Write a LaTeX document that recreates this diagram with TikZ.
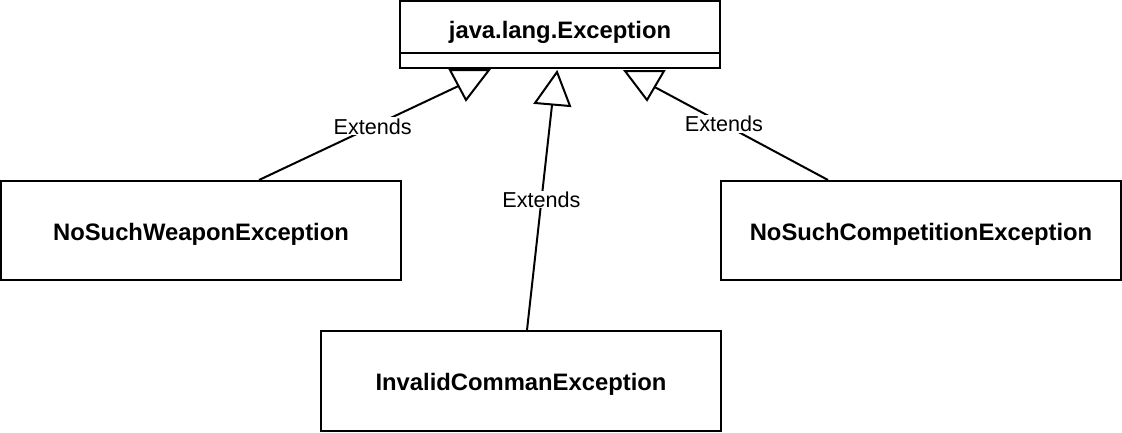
\documentclass[tikz,border=0pt]{standalone}
\usepackage{fontspec}
\setmainfont{Liberation Sans}
\begin{document}
\begin{tikzpicture}[x=1pt,y=1pt,line width=2pt,
  cls/.style={draw,line width=2pt,minimum width=400pt,inner sep=0pt},
  txt/.style={font=\fontsize{23.8}{26}\selectfont\bfseries,inner sep=0pt,text depth=0pt},
  lbl/.style={fill=white,font=\fontsize{21.6}{24}\selectfont,inner sep=1pt},
  tri/.style={draw,fill=white,line width=2pt,line join=miter}]
\useasboundingbox (0,0) rectangle (1122,-432);
% top class
\node[draw,line width=2pt,minimum width=320pt,minimum height=67pt,inner sep=0pt] (exc) at (560,-34.5) {};
\node[txt] (exct) at (560,-29.5) {java.lang.Exception};
\draw ([yshift=16pt]exc.south west) -- ([yshift=16pt]exc.south east);
% subclasses
\node[cls,minimum height=99pt] (weap) at (201,-230.5) {};
\node[txt] (weapt) at (201,-232) {NoSuchWeaponException};
\node[cls,minimum height=99pt] (comp) at (921,-230.5) {};
\node[txt] (compt) at (921,-232) {NoSuchCompetitionException};
\node[cls,minimum height=100pt] (inv) at (521,-381) {};
\node[txt] (invt) at (521,-382) {InvalidCommanException};
% triangles
\coordinate (tl1) at (450,-70); \coordinate (tl2) at (489,-70); \coordinate (tl3) at (466,-100);
\coordinate (tm1) at (557,-72); \coordinate (tm2) at (535,-103); \coordinate (tm3) at (570,-106);
\coordinate (tr1) at (625,-71); \coordinate (tr2) at (664,-71); \coordinate (tr3) at (647,-100);
\draw[tri] (tl1) -- (tl2) -- (tl3) -- cycle;
\draw[tri] (tm1) -- (tm2) -- (tm3) -- cycle;
\draw[tri] (tr1) -- (tr2) -- (tr3) -- cycle;
\coordinate (el) at (458.5,-86);
\coordinate (em) at (552,-105);
\coordinate (er) at (654.6,-87);
% edges
\draw ([xshift=58pt]weap.north) -- node[lbl,pos=0.57] (l1) {Extends} (el);
\draw ([xshift=6pt]inv.north) -- node[lbl,pos=0.58] (l2) {Extends} (em);
\draw ([xshift=-93pt]comp.north) -- node[lbl,pos=0.6] (l3) {Extends} (er);
\end{tikzpicture}
\end{document}
